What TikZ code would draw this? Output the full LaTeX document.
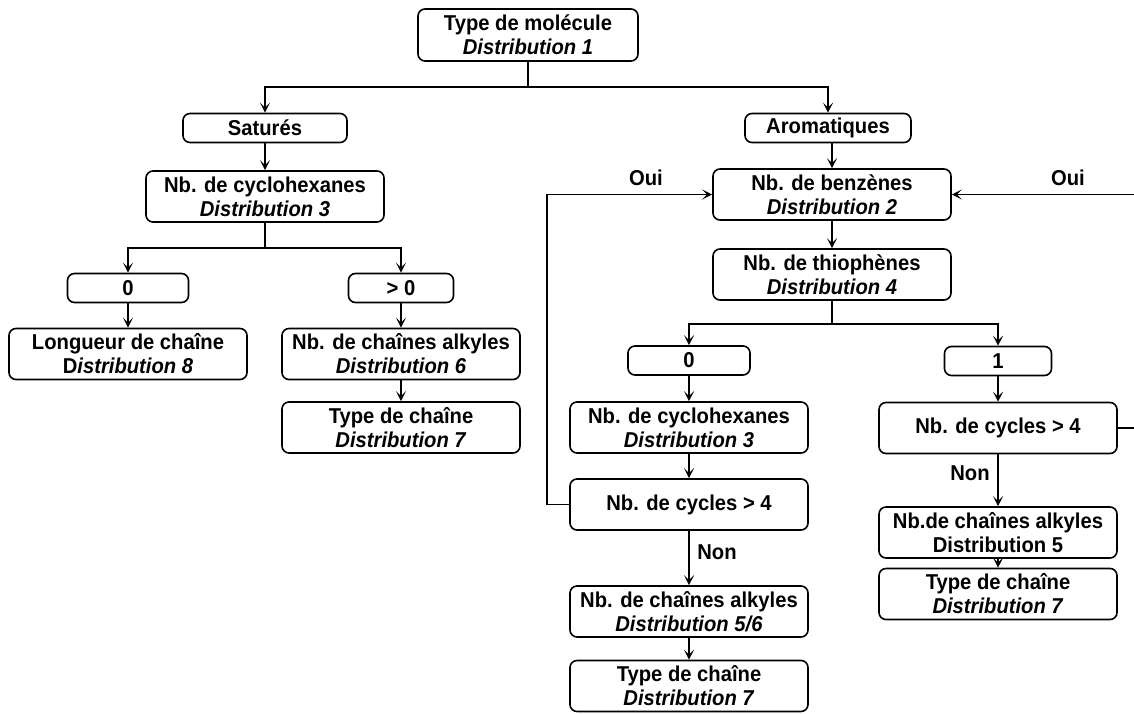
\documentclass[tikz,border=0pt]{standalone}
\usepackage{fontspec}
\setmainfont{Liberation Sans}[FakeStretch=0.94]
\usetikzlibrary{arrows.meta}

\begin{document}
\begin{tikzpicture}[x=1pt,y=-1pt,line width=1.6pt,
    box/.style={draw, rounded corners=7pt, inner sep=0pt, align=center,
      font=\fontsize{21.5}{24}\selectfont\bfseries},
    bigbox/.style={box, minimum width=238pt, minimum height=51pt},
    tagbox/.style={box, minimum height=29pt, minimum width=#1},
    lbl/.style={font=\fontsize{21.5}{24}\selectfont\bfseries},
    arr/.style={-{Stealth[length=10pt,width=10pt,inset=5pt]}}]
  \useasboundingbox[fill=white] (0,0) rectangle (1134,713);

  \node[box, minimum width=220pt, minimum height=52pt] (mol) at (528,35) {Type de molécule\\\textit{Distribution 1}};
  \node[tagbox=164pt] (sat) at (265,128) {Saturés};
  \node[tagbox=166pt] (aro) at (828,128) {Aromatiques};

  \node[bigbox] (cycA) at (265,196.5) {Nb. de cyclohexanes\\\textit{Distribution 3}};
  \node[tagbox=121pt] (zeroA) at (128,288) {0};
  \node[tagbox=105pt] (posA) at (401,288) {> 0};
  \node[bigbox] (lon) at (128,354) {Longueur de chaîne\\D\textit{istribution 8}};
  \node[bigbox] (alkA) at (401,354) {Nb. de chaînes alkyles\\\textit{Distribution 6}};
  \node[bigbox] (typA) at (401,427.5) {Type de chaîne\\\textit{Distribution 7}};

  \node[bigbox] (ben) at (832,194.5) {Nb. de benzènes\\\textit{Distribution 2}};
  \node[bigbox] (thi) at (832,274.5) {Nb. de thiophènes\\\textit{Distribution 4}};
  \node[tagbox=122pt] (zeroB) at (689,360.5) {0};
  \node[tagbox=107pt] (one) at (998,361) {1};
  \node[bigbox] (cycB) at (689,427.5) {Nb. de cyclohexanes\\\textit{Distribution 3}};
  \node[bigbox] (ringB) at (689,504.5) {Nb. de cycles > 4};
  \node[bigbox] (alkB) at (689,611.5) {Nb. de chaînes alkyles\\\textit{Distribution 5/6}};
  \node[bigbox] (typB) at (689,686) {Type de chaîne\\\textit{Distribution 7}};
  \node[bigbox] (ringC) at (998,428) {Nb. de cycles > 4};
  \node[bigbox] (alkC) at (998,532.5) {Nb.de chaînes alkyles\\Distribution 5};
  \node[bigbox] (typC) at (998,594) {Type de chaîne\\\textit{Distribution 7}};

  \node[lbl] (ouiA) at (646,178) {Oui};
  \node[lbl] (ouiC) at (1068,178) {Oui};
  \node[lbl] (nonB) at (717,552) {Non};
  \node[lbl] (nonC) at (970,473) {Non};

  \coordinate (split) at (528,87);
  \draw (mol) -- (split);
  \draw[arr] (split) -| (sat);
  \draw[arr] (split) -| (aro);

  \draw[arr] (sat) -- (cycA);
  \draw (cycA.south) -- ++(0,25) coordinate (splitA);
  \draw[arr] (splitA) -| (zeroA);
  \draw[arr] (splitA) -| (posA);
  \draw[arr] (zeroA) -- (lon);
  \draw[arr] (posA) -- (alkA);
  \draw[arr] (alkA) -- (typA);

  \draw[arr] (aro.south -| ben) -- (ben);
  \draw[arr] (ben) -- (thi);
  \draw (thi.south) -- ++(0,23) coordinate (splitB);
  \draw[arr] (splitB) -| (zeroB);
  \draw[arr] (splitB) -| (one);
  \draw[arr] (zeroB) -- (cycB);
  \draw[arr] (cycB) -- (ringB);
  \draw[arr] (ringB) -- (alkB);
  \draw[arr] (alkB) -- (typB);
  \draw[arr] (one) -- (ringC);
  \draw[arr] (ringC) -- (alkC);
  \draw[arr] (alkC) -- (typC);

  \coordinate (loopA) at (547,504.5);
  \draw[arr] (ringB) -- (loopA) |- (ben);
  \coordinate (loopC) at (1134,428);
  \coordinate (backC) at (1134,194.5);
  \draw (ringC) -- (loopC);
  \draw[arr] (backC) -- (ben);
\end{tikzpicture}
\end{document}
